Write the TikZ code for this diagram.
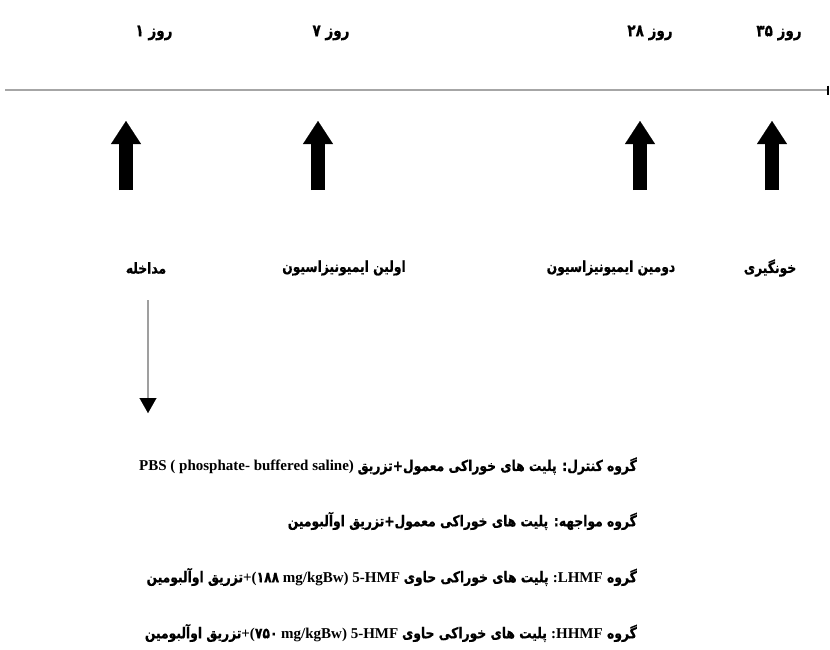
\documentclass[tikz,border=0pt]{standalone}
\usepackage{fontspec}
\setmainfont{Liberation Serif}
\newfontfamily\fa[Script=Arabic, FakeStretch=0.82, BoldFeatures={FakeBold=0.6}]{DejaVu Sans}
\TeXXeTstate=1
\usetikzlibrary{arrows.meta}
\tikzset{
  daytxt/.style={font=\fa\bfseries\fontsize{16.5}{18}\selectfont, inner sep=0pt},
  evtxt/.style={font=\fa\bfseries\fontsize{15}{17}\selectfont, inner sep=0pt},
  grptxt/.style={font=\bfseries\fontsize{15}{17}\selectfont, inner sep=0pt, anchor=east},
  bigup/.style={line width=14pt, -{Triangle[width=30pt,length=23pt,line width=0.1pt]}},
  tline/.style={draw=gray!70, line width=2pt, -{Bar[black,width=9pt,line width=2.5pt]}},
  downarr/.style={draw=gray!75, line width=2pt, -{Triangle[black,width=17pt,length=15pt,line width=0.1pt]}}
}
\begin{document}
\begin{tikzpicture}[x=1pt,y=-1pt]
\useasboundingbox[fill=white] (0,0) rectangle (830,649);
% day labels
\node[daytxt] (d1) at (154,33) {\beginR روز ۱\endR};
\node[daytxt] (d7) at (331,33) {\beginR روز ۷\endR};
\node[daytxt] (d28) at (650,33) {\beginR روز ۲۸\endR};
\node[daytxt] (d35) at (779,33) {\beginR روز ۳۵\endR};
% timeline
\coordinate (t0) at (5,90);
\coordinate (t1) at (829,90);
\draw[tline] (t0) -- (t1);
% up arrows
\coordinate (u1s) at (126,190); \coordinate (u1e) at (126,121);
\coordinate (u2s) at (318,190); \coordinate (u2e) at (318,121);
\coordinate (u3s) at (640,190); \coordinate (u3e) at (640,121);
\coordinate (u4s) at (772,190); \coordinate (u4e) at (772,121);
\draw[bigup] (u1s) -- (u1e);
\draw[bigup] (u2s) -- (u2e);
\draw[bigup] (u3s) -- (u3e);
\draw[bigup] (u4s) -- (u4e);
% event labels
\node[evtxt] (e1) at (146,268) {\beginR مداخله\endR};
\node[evtxt] (e2) at (344,268) {\beginR اولین ایمیونیزاسیون\endR};
\node[evtxt] (e3) at (611,268) {\beginR دومین ایمیونیزاسیون\endR};
\node[evtxt] (e4) at (770,268) {\beginR خونگیری\endR};
% down arrow
\coordinate (dn0) at (148,300);
\coordinate (dn1) at (148,413);
\draw[downarr] (dn0) -- (dn1);
% group lines
\node[grptxt] (g1) at (637,466) {PBS ( phosphate- buffered saline) {\fa\beginR گروه کنترل: پلیت های خوراکی معمول+تزریق\endR}};
\node[grptxt] (g2) at (637,521) {{\fa\beginR گروه مواجهه: پلیت های خوراکی معمول+تزریق اوآلبومین\endR}};
\node[grptxt] (g3) at (637,577) {{\fa\beginR تزریق اوآلبومین\endR}+({\fa ۱۸۸} mg/kgBw) 5-HMF {\fa\beginR گروه {\rmfamily :LHMF} پلیت های خوراکی حاوی\endR}};
\node[grptxt] (g4) at (637,633) {{\fa\beginR تزریق اوآلبومین\endR}+({\fa ۷۵۰} mg/kgBw) 5-HMF {\fa\beginR گروه {\rmfamily :HHMF} پلیت های خوراکی حاوی\endR}};
\end{tikzpicture}
\end{document}
